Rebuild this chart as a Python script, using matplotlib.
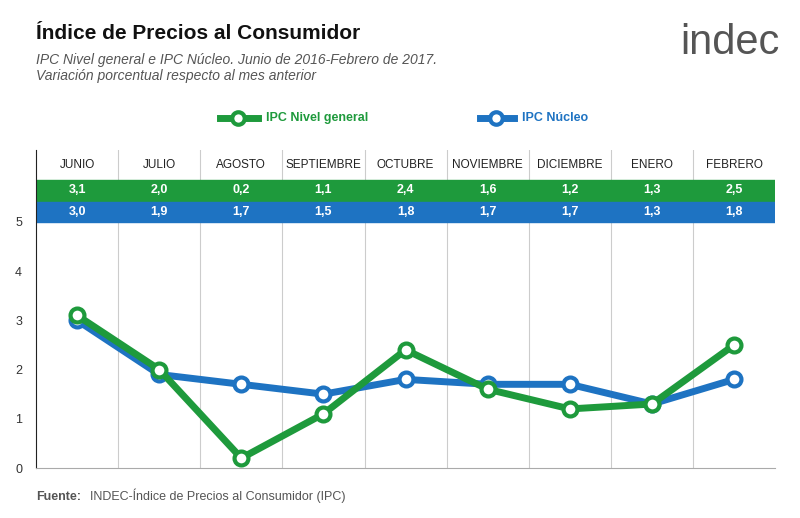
import matplotlib.pyplot as plt
from matplotlib.lines import Line2D

months = ["JUNIO", "JULIO", "AGOSTO", "SEPTIEMBRE", "OCTUBRE",
          "NOVIEMBRE", "DICIEMBRE", "ENERO", "FEBRERO"]
general = [3.1, 2.0, 0.2, 1.1, 2.4, 1.6, 1.2, 1.3, 2.5]
nucleo = [3.0, 1.9, 1.7, 1.5, 1.8, 1.7, 1.7, 1.3, 1.8]
yticks = [0, 1, 2, 3, 4, 5]

GREEN = "#1e9a3c"
BLUE = "#1e73c2"

plt.rcParams["font.family"] = ["Liberation Sans", "DejaVu Sans"]
fig = plt.figure(figsize=(8, 5.18), dpi=100)
ax = fig.add_axes([0.045, 0.0965, 0.924, 0.614])

x = list(range(len(months)))
ax.plot(x, nucleo, color=BLUE, lw=5, marker="o", ms=10, mfc="white",
        mec=BLUE, mew=3, zorder=3, solid_joinstyle="round")
ax.plot(x, general, color=GREEN, lw=5, marker="o", ms=10, mfc="white",
        mec=GREEN, mew=3, zorder=4, solid_joinstyle="round")

ax.set_xlim(-0.5, len(months) - 0.5)
ax.set_ylim(0, 6.46)
for b in range(1, len(months)):
    ax.axvline(b - 0.5, color="#cccccc", lw=0.8, zorder=0)

# header table
ax.axhspan(5.43, 5.85, color=GREEN, zorder=1)
ax.axhspan(5.0, 5.41, color=BLUE, zorder=1)
for i, m in enumerate(months):
    ax.text(i, 6.15, m, ha="center", va="center", fontsize=8.5, color="#222222")
    ax.text(i, 5.64, f"{general[i]:.1f}".replace(".", ","), ha="center",
            va="center", fontsize=9, color="white", fontweight="bold", zorder=2)
    ax.text(i, 5.205, f"{nucleo[i]:.1f}".replace(".", ","), ha="center",
            va="center", fontsize=9, color="white", fontweight="bold", zorder=2)

ax.set_yticks(yticks)
ax.set_xticks([])
ax.tick_params(axis="y", length=0, labelsize=9, colors="#333333", pad=10)
for s in ["top", "right"]:
    ax.spines[s].set_visible(False)
ax.spines["left"].set_color("#222222")
ax.spines["bottom"].set_color("#aaaaaa")

fig.text(0.045, 0.925, "Índice de Precios al Consumidor", fontsize=15,
         fontweight="bold", color="#111111")
fig.text(0.045, 0.877, "IPC Nivel general e IPC Núcleo. Junio de 2016-Febrero de 2017.",
         fontsize=10, style="italic", color="#555555")
fig.text(0.045, 0.845, "Variación porcentual respecto al mes anterior",
         fontsize=10, style="italic", color="#555555")
fig.text(0.975, 0.895, "indec", fontsize=30, color="#555555", ha="right")

fig.add_artist(Line2D([0.275, 0.298, 0.322], [0.772] * 3, color=GREEN, lw=5,
                      marker="o", markevery=[1], ms=9, mfc="white", mec=GREEN, mew=3))
fig.text(0.332, 0.772, "IPC Nivel general", fontsize=9, fontweight="bold",
         color=GREEN, va="center")
fig.add_artist(Line2D([0.6, 0.62, 0.642], [0.772] * 3, color=BLUE, lw=5,
                      marker="o", markevery=[1], ms=9, mfc="white", mec=BLUE, mew=3))
fig.text(0.652, 0.772, "IPC Núcleo", fontsize=9, fontweight="bold",
         color=BLUE, va="center")

fig.text(0.045, 0.035, "Fuente:", fontsize=9, fontweight="bold", color="#555555")
fig.text(0.113, 0.035, "INDEC-Índice de Precios al Consumidor (IPC)", fontsize=9,
         color="#555555")

fig.savefig("out.png", dpi=100)
